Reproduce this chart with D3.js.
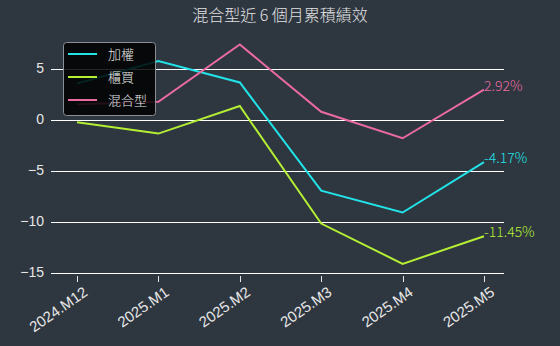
<!DOCTYPE html>
<html>
<head>
<meta charset="utf-8">
<script src="https://cdn.jsdelivr.net/npm/d3@7"></script>
<style>
  body { margin: 0; background: #2e3640; }
  svg { display: block; font-family: "Noto Sans CJK TC", "Noto Sans", sans-serif; font-weight: 300; }
</style>
</head>
<body>
<script>
const months = ["2024.M12", "2025.M1", "2025.M2", "2025.M3", "2025.M4", "2025.M5"];
const taiex = [3.53, 5.74, 3.63, -6.98, -9.12, -4.17];
const otc = [-0.27, -1.38, 1.32, -10.2, -14.15, -11.45];
const mixed = [1.5, 1.74, 7.35, 0.76, -1.84, 2.92];
const seriesNames = ["加權", "櫃買", "混合型"];
const seriesColors = ["#22e3e8", "#b4ef34", "#ea6aa2"];
const yTicks = [-15, -10, -5, 0, 5];

const width = 560;
const height = 346;

const svg = d3.select("body").append("svg")
  .attr("width", width)
  .attr("height", height);

const x = d3.scalePoint().domain(months).range([77, 484]);
const y = d3.scaleLinear().domain([-15, 5]).range([272.5, 68.5]);

// title
svg.append("text")
  .attr("x", 280).attr("y", 21)
  .attr("text-anchor", "middle")
  .attr("fill", "#e2e2e2")
  .style("font-size", "16px")
  .text("混合型近 6 個月累積績效");

// y grid + labels
const yAxis = svg.append("g")
  .attr("transform", "translate(51,0)")
  .call(d3.axisLeft(y).tickValues(yTicks).tickSize(-453).tickPadding(7));
yAxis.select(".domain").remove();
yAxis.selectAll("line")
  .attr("stroke", "#ffffff")
  .attr("stroke-width", 1)
  .attr("shape-rendering", "crispEdges");
yAxis.selectAll("text").attr("fill", "#e6e6e6").style("font-size", "14px");

// x axis
const xAxis = svg.append("g")
  .attr("transform", "translate(0,276)")
  .call(d3.axisBottom(x).tickSize(6).tickPadding(5));
xAxis.select(".domain").remove();
xAxis.selectAll("line").attr("stroke", "#e6e6e6").attr("shape-rendering", "crispEdges");
xAxis.selectAll("text")
  .attr("fill", "#e6e6e6")
  .style("font-size", "15px")
  .attr("text-anchor", "end")
  .attr("dx", "-0.1em")
  .attr("dy", "0.7em")
  .attr("transform", "rotate(-35)");

const line = d3.line().x((d, i) => x(months[i])).y(d => y(d));

[taiex, otc, mixed].forEach((vals, k) => {
  svg.append("path")
    .datum(vals)
    .attr("fill", "none")
    .attr("stroke", seriesColors[k])
    .attr("stroke-width", 2)
    .attr("d", line);
});

// end labels
[taiex, otc, mixed].forEach((vals, k) => {
  const v = vals[vals.length - 1];
  svg.append("text")
    .attr("x", x(months[months.length - 1]))
    .attr("y", y(v) + 1)
    .attr("fill", seriesColors[k])
    .style("font-size", "14px")
    .text(v.toFixed(2) + "%");
});

// legend
const legend = svg.append("g").attr("transform", "translate(63,42)");
legend.append("rect")
  .attr("x", 0.5).attr("y", 0.5)
  .attr("width", 92).attr("height", 73)
  .attr("rx", 3)
  .attr("fill", "rgba(0,0,0,0.85)")
  .attr("stroke", "#8a8f96");
seriesNames.forEach((name, i) => {
  const ly = 12 + i * 23;
  legend.append("line")
    .attr("x1", 5).attr("x2", 34)
    .attr("y1", ly).attr("y2", ly)
    .attr("stroke", seriesColors[i])
    .attr("stroke-width", 2);
  legend.append("text")
    .attr("x", 45).attr("y", ly + 5)
    .attr("fill", "#e8e8e8")
    .style("font-size", "13px")
    .text(name);
});
</script>
</body>
</html>
